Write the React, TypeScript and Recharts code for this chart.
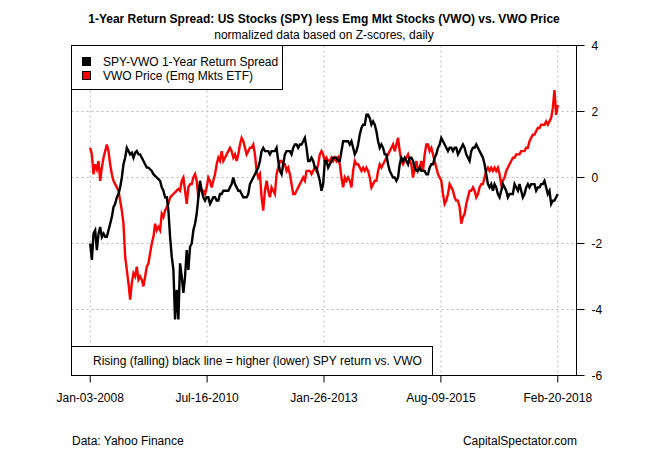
import React from "react";
import {
  LineChart,
  Line,
  XAxis,
  YAxis,
  CartesianGrid,
  ReferenceArea,
  Legend,
} from "recharts";

// SPY-VWO 1-year return spread, z-score, sampled roughly every 13 days (Jan-03-2008 .. Feb-20-2018)
const SPREAD = [
  -2.0, -2.5, -1.7, -1.6, -2.2, -1.7, -1.5, -1.8, -1.7, -1.8, -1.8, -1.6, -1.4, -1.2, -0.9, -0.8, -0.6, -0.5, -0.3, 0.0,
  0.4, 0.6, 0.9, 0.8, 0.7, 0.75, 0.6, 0.75, 0.8, 0.7, 0.7, 0.6, 0.5, 0.4, 0.3, 0.3, 0.25, 0.2, 0.1, 0.05,
  0.0, -0.05, -0.1, -0.3, -0.4, -0.6, -0.6, -1.0, -1.8, -2.4, -2.8, -4.3, -3.4, -4.3, -2.6,
  -3.0, -3.5, -3.0, -2.2, -2.8, -2.1, -2.0, -1.6, -1.4, -1.1, -0.6, -0.1, -0.4, -0.6, -0.7, -0.6, -0.6, -0.8, -0.7, -0.6,
  -0.6, -0.7, -0.7, -0.5, -0.5, -0.4, -0.4, -0.4, -0.4, -0.3, -0.2, 0.0, -0.2, -0.3, -0.4, -0.4, -0.5, -0.6, -0.6, -0.6,
  -0.5, -0.2, -0.1, 0.0, 0.1, 0.2, 0.3, 0.5, 0.8, 0.9, 0.8, 0.8, 0.8, 0.7, 0.8, 0.8, 0.8,
  0.9, 0.5, 0.2, 0.1, 0.4, 0.7, 0.8, 0.8, 0.8, 0.7, 0.9, 1.0, 1.0, 0.9, 1.0, 1.0, 1.1, 1.2, 0.9, 0.5,
  0.5, 0.6, 0.5, 0.3, 0.3, 0.1, -0.1, -0.4, -0.2, 0.5, 0.5, 0.3, 0.4, 0.5, 0.6, 0.6, 0.6, 0.5, 0.5, 0.8,
  1.1, 1.1, 1.1, 1.1, 1.0, 1.1, 0.9, 0.7, 0.8, 1.0, 1.3, 1.5, 1.6, 1.6, 1.9, 1.9, 1.8,
  1.6, 1.7, 1.6, 1.4, 1.1, 0.9, 1.0, 0.9, 0.7, 0.7, 0.4, 0.2, 0.1, 0.0, 0.0, -0.1, 0.0, 0.4, 0.6, 0.5,
  0.6, 0.5, 0.4, 0.6, 0.6, 0.5, 0.3, 0.2, 0.2, 0.3, 0.2, 0.2, 0.2, 0.1, 0.1, 0.3, 0.4, 0.4, 0.6, 0.7,
  0.9, 1.0, 1.2, 1.1, 1.0, 0.9, 0.8, 0.9, 0.9, 0.8, 0.9, 0.9, 0.7, 0.8, 0.9, 1.0, 0.9,
  0.7, 0.6, 0.5, 0.8, 0.9, 0.9, 1.0, 0.9, 0.8, 0.7, 0.6, 0.4, 0.1, -0.2, -0.3, -0.2, -0.4, -0.2, -0.3, -0.5,
  -0.6, -0.4, -0.2, -0.3, -0.4, -0.6, -0.5, -0.5, -0.5, -0.2, -0.3, -0.4, -0.2, -0.4, -0.6, -0.5, -0.3, -0.2, -0.3, -0.2,
  -0.2, -0.2, -0.4, -0.3, -0.3, -0.2, -0.2, -0.1, -0.3, -0.5, -0.4, -0.8, -0.7, -0.7, -0.6, -0.5,
];

// VWO price, z-score, same dates
const VWO = [
  0.9, 0.7, 0.1, 0.4, 0.25, 0.5, -0.1, 0.3, 0.6, 0.8, 1.0, 0.8, 0.4, 0.1, -0.1, -0.2, -0.3, -0.4, -0.7, -1.0,
  -1.4, -2.4, -2.8, -3.2, -3.7, -3.2, -2.9, -3.0, -2.7, -3.1, -3.0, -3.1, -3.3, -3.0, -2.7, -2.6, -2.3, -2.0, -1.8, -1.4,
  -1.6, -1.5, -1.6, -1.1, -1.2, -1.0, -0.9, -0.8, -0.6, -0.55, -0.5, -0.45, -0.4, -0.35, -0.4,
  -0.1, 0.0, -0.4, -0.8, -0.3, -0.2, -0.2, 0.0, 0.1, -0.1, -0.6, -0.2, -0.4, -0.4, -0.5, -0.3, 0.0, -0.1, -0.3, -0.1,
  0.1, 0.4, 0.6, 0.5, 0.8, 0.5, 0.6, 0.7, 0.8, 0.9, 0.8, 0.6, 0.7, 0.5, 0.7, 1.0, 1.2, 1.1, 0.9, 0.7,
  0.8, 0.9, 0.9, 1.0, 0.7, 0.2, 0.0, 0.1, -0.6, -1.0, -0.4, -0.1, -0.4, -0.6, -0.3, -0.4, -0.5,
  0.1, 0.3, 0.5, 0.5, 0.4, 0.4, 0.2, 0.3, 0.1, -0.2, -0.5, -0.5, -0.4, -0.3, -0.2, -0.1, 0.0, -0.1, 0.2, 0.2,
  0.2, 0.1, 0.2, 0.3, 0.2, 0.4, 0.7, 0.8, 0.7, 0.5, 0.6, 0.5, 0.5, 0.6, 0.5, 0.6, 0.5, 0.6, 0.4, 0.0,
  -0.3, 0.0, -0.1, 0.0, -0.1, -0.3, 0.2, 0.5, 0.4, 0.4, 0.3, 0.2, 0.3, 0.2, 0.3, 0.2, 0.0,
  -0.3, -0.2, -0.1, -0.1, 0.2, 0.4, 0.3, 0.4, 0.5, 0.6, 0.7, 0.8, 0.9, 1.0, 0.8, 1.0, 1.2, 0.8, 0.5, 0.4,
  0.5, 0.6, 0.7, 0.5, 0.4, 0.0, 0.3, 0.5, 0.2, 0.3, 0.5, 0.2, 0.7, 1.0, 1.0, 0.8, 0.9, 0.7, 0.5, 0.3,
  0.1, 0.0, -0.1, -0.5, -0.8, -0.7, -0.5, -0.2, -0.3, -0.4, -0.6, -0.7, -0.7, -0.9, -1.4, -1.2, -1.1,
  -0.8, -0.6, -0.4, -0.4, -0.3, -0.4, -0.6, -0.5, -0.3, -0.2, -0.2, 0.0, 0.2, 0.3, 0.2, 0.3, 0.2, 0.3, 0.2, 0.3,
  0.1, -0.2, -0.1, 0.0, 0.2, 0.3, 0.4, 0.5, 0.6, 0.6, 0.7, 0.7, 0.7, 0.8, 0.8, 0.8, 0.9, 0.9, 1.1, 1.2,
  1.3, 1.3, 1.4, 1.5, 1.5, 1.6, 1.6, 1.6, 1.7, 1.6, 1.7, 1.8, 2.1, 2.65, 1.9, 2.2,
];

// x-axis ticks: days after Jan-03-2008
const TICK_DAYS = [0, 925, 1850, 2775, 3700];
const TICK_LABELS = ["Jan-03-2008", "Jul-16-2010", "Jan-26-2013", "Aug-09-2015", "Feb-20-2018"];
const Y_TICKS = [-6, -4, -2, 0, 2, 4];

const LAST = SPREAD.length - 1;
const DAYS_PER_POINT = TICK_DAYS[TICK_DAYS.length - 1] / LAST;
const X_TICKS = TICK_DAYS.map((d) => d / DAYS_PER_POINT);
const X_MIN = -0.04 * LAST;
const X_MAX = LAST * 1.04;

const data = SPREAD.map((s, i) => ({ t: i, spread: s, vwo: VWO[i] }));

const FONT = '"Liberation Sans", Arial, sans-serif';

function LegendBox() {
  const rows = [
    { name: "SPY-VWO 1-Year Return Spread", color: "#000000" },
    { name: "VWO Price (Emg Mkts ETF)", color: "#ff0000" },
  ];
  return (
    <div
      style={{
        position: "relative",
        width: 212,
        height: 45,
        boxSizing: "border-box",
        border: "1px solid #000",
        background: "#fff",
        fontFamily: FONT,
        fontSize: 12,
        lineHeight: "14px",
        color: "#000",
      }}
    >
      {rows.map((r, i) => (
        <React.Fragment key={r.name}>
          <span
            style={{
              position: "absolute",
              left: 10,
              top: 11 + i * 14,
              width: 9,
              height: 9,
              boxSizing: "border-box",
              border: "1px solid #000",
              background: r.color,
            }}
          />
          <span style={{ position: "absolute", left: 31, top: 9 + i * 14, whiteSpace: "nowrap" }}>
            {r.name}
          </span>
        </React.Fragment>
      ))}
    </div>
  );
}

const abs = (extra: React.CSSProperties): React.CSSProperties => ({
  position: "absolute",
  fontFamily: FONT,
  fontSize: 12,
  lineHeight: "14px",
  color: "#000",
  whiteSpace: "nowrap",
  ...extra,
});

export default function App() {
  return (
    <div
      style={{
        position: "absolute",
        left: 0,
        top: 0,
        width: 650,
        height: 450,
        background: "#fff",
        fontFamily: FONT,
      }}
    >
      <LineChart
        width={650}
        height={450}
        data={data}
        margin={{ top: 45.5, right: 0, bottom: 44.5, left: 71.5 }}
      >
        <CartesianGrid stroke="#b8b8b8" strokeDasharray="2 3" />
        <XAxis
          dataKey="t"
          type="number"
          domain={[X_MIN, X_MAX]}
          ticks={X_TICKS}
          interval={0}
          allowDataOverflow
          height={30}
          axisLine={false}
          tickLine={{ stroke: "#000" }}
          tickSize={7}
          tickMargin={11}
          tick={{ fill: "#000", fontSize: 12 }}
          tickFormatter={(v: number) => TICK_LABELS[X_TICKS.findIndex((x) => Math.abs(x - v) < 0.01)] ?? ""}
        />
        <YAxis
          orientation="right"
          type="number"
          domain={[-6, 4]}
          ticks={Y_TICKS}
          interval={0}
          allowDataOverflow
          width={73.5}
          axisLine={{ stroke: "#000" }}
          tickLine={{ stroke: "#000" }}
          tickSize={8}
          tickMargin={7}
          tick={{ fill: "#000", fontSize: 12, textAnchor: "start" }}
        />
        <Legend
          layout="vertical"
          align="center"
          verticalAlign="middle"
          wrapperStyle={{ left: 71, top: 45, width: 212, height: 45 }}
          content={() => <LegendBox />}
        />
        <Line
          type="linear"
          dataKey="vwo"
          name="VWO Price (Emg Mkts ETF)"
          stroke="#ff0000"
          strokeWidth={2.4}
          dot={false}
          isAnimationActive={false}
        />
        <Line
          type="linear"
          dataKey="spread"
          name="SPY-VWO 1-Year Return Spread"
          stroke="#000000"
          strokeWidth={2.4}
          dot={false}
          isAnimationActive={false}
        />
        <ReferenceArea
          x1={X_MIN}
          x2={X_MAX}
          y1={-6}
          y2={4}
          fill="none"
          fillOpacity={0}
          stroke="#000"
          strokeWidth={1}
          ifOverflow="visible"
        />
      </LineChart>

      <div style={abs({ left: 71.5, width: 505, top: 12, textAlign: "center", fontWeight: "bold" })}>
        1-Year Return Spread: US Stocks (SPY) less Emg Mkt Stocks (VWO) vs. VWO Price
      </div>
      <div style={abs({ left: 71.5, width: 505, top: 28, textAlign: "center" })}>
        normalized data based on Z-scores, daily
      </div>

      <div
        style={abs({
          left: 71,
          top: 346,
          width: 362,
          height: 30,
          boxSizing: "border-box",
          border: "1px solid #000",
          background: "#fff",
        })}
      >
        <span style={{ position: "absolute", left: 21, top: 7 }}>
          Rising (falling) black line = higher (lower) SPY return vs. VWO
        </span>
      </div>

      <div style={abs({ left: 72, top: 434 })}>Data: Yahoo Finance</div>
      <div style={abs({ right: 73, top: 434 })}>CapitalSpectator.com</div>
    </div>
  );
}
